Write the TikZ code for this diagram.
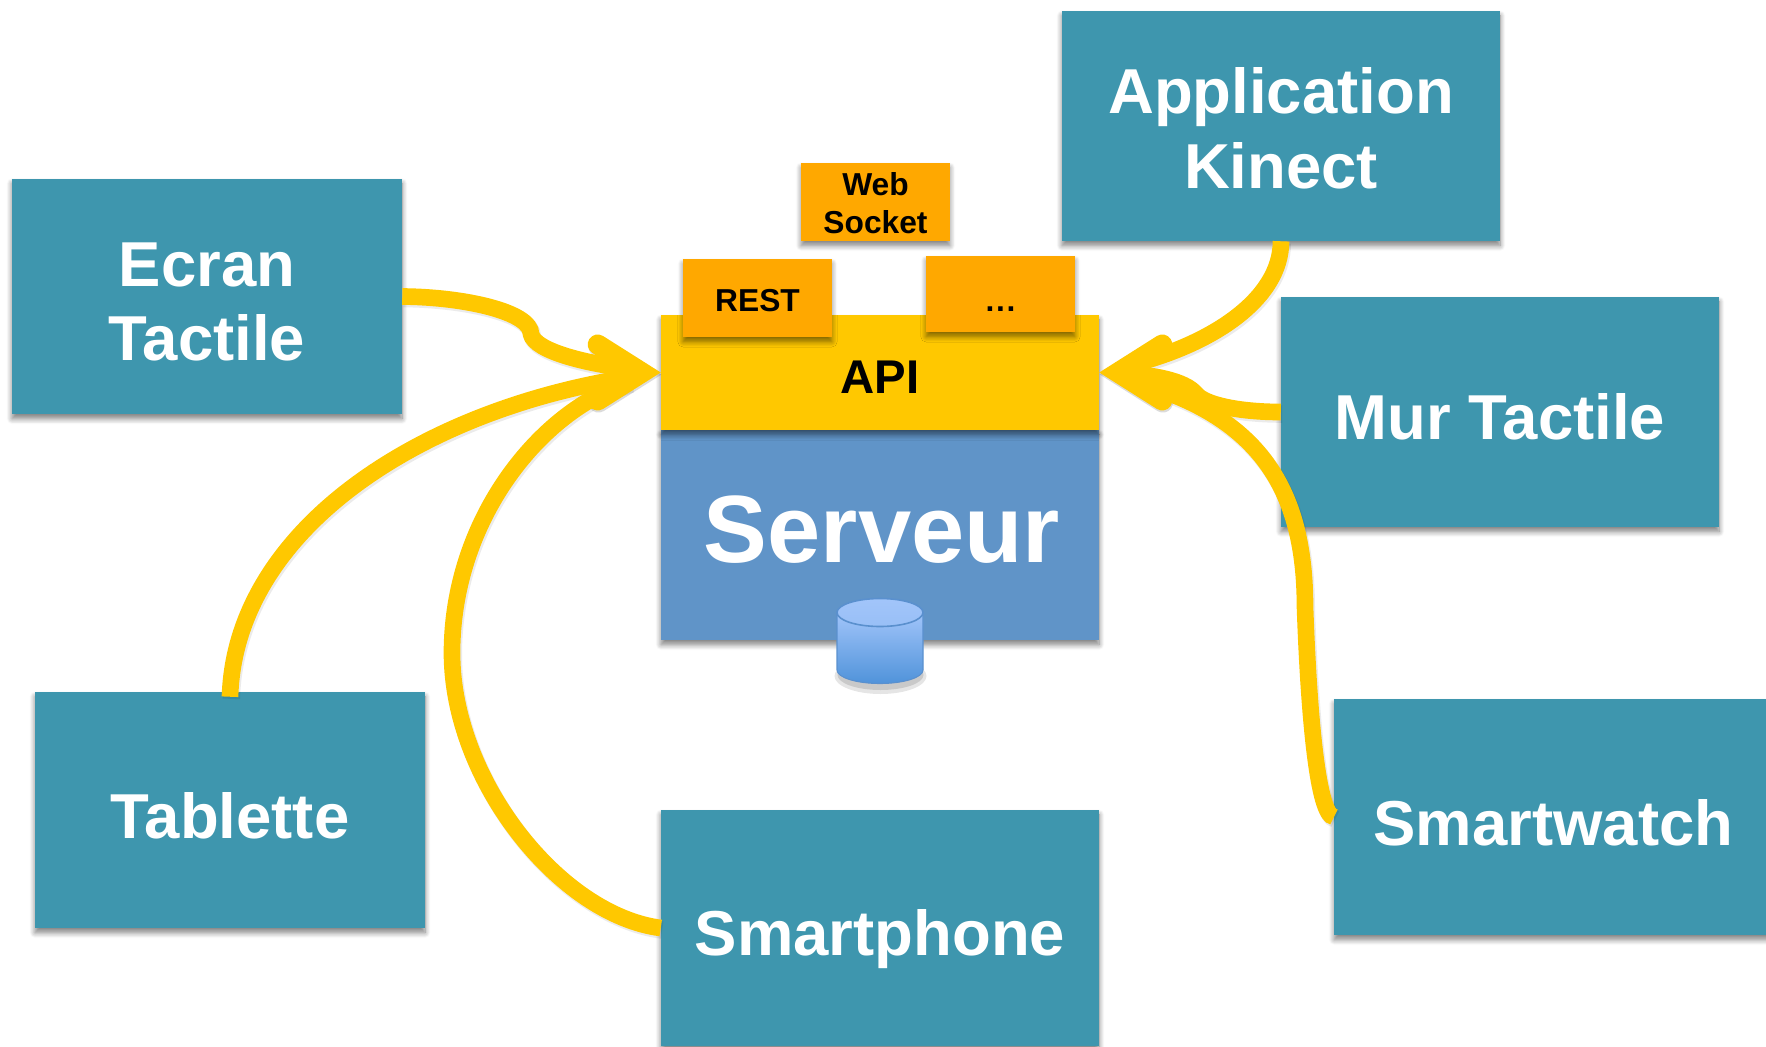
\documentclass[tikz,border=0pt]{standalone}
\usepackage{fontspec}
\setmainfont{Liberation Sans}
\usetikzlibrary{calc,shadows.blur}
\definecolor{tealbox}{HTML}{3E96AE}
\definecolor{apiyellow}{HTML}{FFC800}
\definecolor{tagorange}{HTML}{FFA800}
\definecolor{serverblue}{HTML}{6094C8}
\definecolor{cyltop}{HTML}{A2C5FA}
\definecolor{cylbot}{HTML}{5093DA}
\definecolor{cylline}{HTML}{5A90CE}
\tikzset{
  softshadow/.style={blur shadow={shadow xshift=0pt,shadow yshift=-3.5pt,shadow blur radius=4pt,shadow blur steps=8,shadow opacity=50}},
  tealnode/.style={fill=tealbox,text=white,font=\bfseries\fontsize{47.6pt}{55.7pt}\selectfont,align=center,inner sep=0pt,softshadow},
  tagnode/.style={fill=tagorange,text=black,font=\bfseries\fontsize{23.8pt}{28pt}\selectfont,align=center,inner sep=0pt,minimum width=111.5pt,softshadow},
  linkstroke/.style={draw=apiyellow,line width=12.5pt,line cap=butt},
  linkshade/.style={draw=black,line width=13pt,opacity=.08,line cap=butt,transform canvas={xshift=1pt,yshift=-1.6pt}},
  chevronfill/.style={fill=apiyellow},
  chevronshade/.style={fill=black,opacity=.14,transform canvas={xshift=.5pt,yshift=-1.6pt}},
}
\newcommand{\linkpaths}[1]{%
\draw[#1,shorten >=24pt] (ecran.east) .. controls (465,297) and (531,312) .. (531,334)
  .. controls (535,352) and (590,364) .. (api.west);
\draw[#1,shorten >=24pt] ($(tablette.north)+(0,5)$) .. controls (235,530) and (420,410) .. (api.west);
\draw[#1,shorten >=24pt] (smartphone.west) .. controls (560,915) and (452,780) .. (452,653)
  .. controls (452,520) and (540,410) .. (api.west);
\draw[#1,shorten >=24pt] (kinect.south) .. controls (1281,300) and (1210,345) .. (api.east);
\draw[#1,shorten >=24pt] (mur.west) .. controls (1240,412) and (1205,405) .. (1196,394)
  .. controls (1185,380) and (1150,375) .. (api.east);
\draw[#1,shorten >=24pt] (smartwatch.west) .. controls (1318,815) and (1309,720) .. (1305,607)
  .. controls (1305,490) and (1260,415) .. (api.east);
}
\newcommand{\chevronshape}[1]{%
\fill[#1] (0,0) -- (-57.6,36.4) arc[start angle=57.5,end angle=237.5,radius=10] -- (-37.6,0)
  -- (-68.4,-19.6) arc[start angle=122.5,end angle=302.5,radius=10] -- cycle;
}
\newcommand{\chevronpaths}[1]{%
\begin{scope}[shift={(api.west)}]\chevronshape{#1}\end{scope}
\begin{scope}[shift={(api.east)},xscale=-1]\chevronshape{#1}\end{scope}
}
\begin{document}
\begin{tikzpicture}[x=.75pt,y=-.75pt]
\useasboundingbox (0,0) rectangle (1766,1046);
% client boxes
\node[tealnode,minimum width=292.5pt,minimum height=176.5pt] (ecran) at (207,296.5) {\rule{0pt}{41.5pt}Ecran\\Tactile};
\node[tealnode,minimum width=292.5pt,minimum height=177pt,text height=43pt,text depth=0pt] (tablette) at (230,810) {Tablette};
\node[tealnode,minimum width=328.5pt,minimum height=177pt,text height=41pt,text depth=0pt] (smartphone) at (880,928) {Smartphone};
\node[tealnode,minimum width=329pt,minimum height=177pt,text height=43pt,text depth=0pt] (smartwatch) at (1553.5,817) {Smartwatch};
\node[tealnode,minimum width=328.5pt,minimum height=172.5pt,text height=40.5pt,text depth=0pt] (mur) at (1500,412) {Mur Tactile};
\node[tealnode,minimum width=328.5pt,minimum height=172.5pt] (kinect) at (1281,126) {\rule{0pt}{38pt}Application\\Kinect};
% server
\node[fill=serverblue,minimum width=328.5pt,minimum height=157.5pt,inner sep=0pt,softshadow] (serveur) at (880,535) {};
\node[text=white,font=\bfseries\fontsize{71.7pt}{80pt}\selectfont,inner sep=0pt] (serveurlabel) at (882,530) {Serveur};
% database
\fill[black,opacity=.10] (880.5,676) ellipse[x radius=46,y radius=18];
\fill[black,opacity=.12] (880.5,675) ellipse[x radius=43,y radius=15];
\path[top color=cyltop,bottom color=cylbot,draw=cylline,line width=.8pt]
  (837,612) -- (837,670) arc[start angle=180,end angle=0,x radius=43,y radius=13.5] -- (923,612) -- cycle;
\path[top color=cyltop,bottom color=cyltop!88!cylbot,draw=cylline,line width=1.2pt] (880,612.5) ellipse[x radius=43,y radius=14];
% api
\node[fill=apiyellow,minimum width=328.5pt,minimum height=86.25pt,inner sep=0pt,softshadow,font=\bfseries\fontsize{35.5pt}{40pt}\selectfont,text height=31pt,text depth=0pt] (api) at (880,372.5) {API};
% protocols
\node[tagnode,minimum height=58.5pt] (web) at (875.5,202) {\rule{0pt}{19pt}Web\\Socket};
\node[tagnode,minimum height=58.5pt,text height=20.8pt,text depth=0pt] (rest) at (757.5,298) {REST};
\node[tagnode,minimum height=57pt,text height=25.6pt,text depth=0pt] (dots) at (1000.5,294) {.\kern1.2pt.\kern1.2pt.};
% connectors
\linkpaths{linkshade}
\chevronpaths{chevronshade}
\linkpaths{linkstroke}
\chevronpaths{chevronfill}
\end{tikzpicture}
\end{document}
